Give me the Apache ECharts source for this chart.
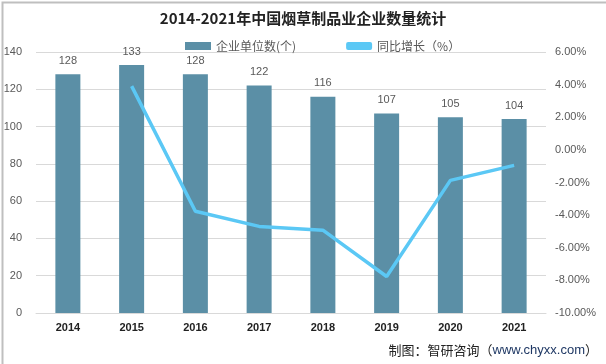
<!DOCTYPE html>
<html><head><meta charset="utf-8">
<script src="https://cdn.jsdelivr.net/npm/echarts@6/dist/echarts.min.js"></script>
<style>html,body{margin:0;padding:0;background:#fff}#c{width:606px;height:364px}</style>
</head><body><div id="c"></div>
<script>
const categories = ['2014','2015','2016','2017','2018','2019','2020','2021'];
const enterpriseCount = [128,133,128,122,116,107,105,104];
const yoyGrowth = [null,3.91,-3.76,-4.69,-4.92,-7.76,-1.87,-0.95];
const leftTicks = {min:0,max:140,interval:20};
const rightTicks = {min:-10,max:6,interval:2};

const chart = echarts.init(document.getElementById('c'));
const font = "'Noto Sans CJK SC','Microsoft YaHei',sans-serif";
chart.setOption({
  animation:false,
  backgroundColor:'#fff',
  textStyle:{fontFamily:font},
  title:{text:'2014-2021年中国烟草制品业企业数量统计',left:'center',top:6,
    textStyle:{fontSize:15,fontWeight:'bold',color:'#222',fontFamily:font}},
  legend:{top:35,left:180,itemGap:50,itemWidth:26,itemHeight:8,
    textStyle:{fontSize:12,color:'#595959',fontFamily:font},
    data:[{name:'企业单位数(个)',icon:'rect'},{name:'同比增长（%）',icon:'roundRect'}]},
  grid:{left:36,right:60,top:52,bottom:51},
  xAxis:{type:'category',data:categories,
    axisLine:{lineStyle:{color:'#d9d9d9'}},axisTick:{show:false},
    axisLabel:{color:'#222',fontWeight:'bold',fontSize:11,margin:9,fontFamily:'Liberation Sans, Arial'}},
  yAxis:[
    {type:'value',min:leftTicks.min,max:leftTicks.max,interval:leftTicks.interval,
     axisLine:{show:false},axisTick:{show:false},
     axisLabel:{color:'#595959',fontSize:11,margin:14,fontFamily:'Liberation Sans, Arial'},
     splitLine:{lineStyle:{color:'#d9d9d9'}}},
    {type:'value',min:rightTicks.min,max:rightTicks.max,interval:rightTicks.interval,
     axisLine:{show:false},axisTick:{show:false},splitLine:{show:false},
     axisLabel:{color:'#595959',fontSize:11,margin:9,fontFamily:'Liberation Sans, Arial',
       formatter:v=>v.toFixed(2)+'%'}}
  ],
  series:[
    {name:'企业单位数(个)',type:'bar',data:enterpriseCount,barWidth:25,
     itemStyle:{color:'#5b8fa6'},
     label:{show:true,position:'top',distance:8,color:'#595959',fontSize:11,fontFamily:'Liberation Sans, Arial'}},
    {name:'同比增长（%）',type:'line',yAxisIndex:1,data:yoyGrowth,symbol:'none',
     lineStyle:{color:'#5bc8f5',width:3.5},itemStyle:{color:'#5bc8f5'}}
  ],
  graphic:[
    {type:'rect',left:0,top:0,shape:{width:605,height:363},
     style:{fill:'none',stroke:'#bfbfbf',lineWidth:2},silent:true},
    {type:'text',right:8,top:344,style:{
      text:'{a|制图：智研咨询（}{b|www.chyxx.com}{a|）}',
      rich:{a:{fontSize:13,fill:'#222',fontFamily:font},b:{fontSize:13,fill:'#1f3864',fontFamily:'Liberation Sans, Arial'}}}}
  ]
});
</script></body></html>
